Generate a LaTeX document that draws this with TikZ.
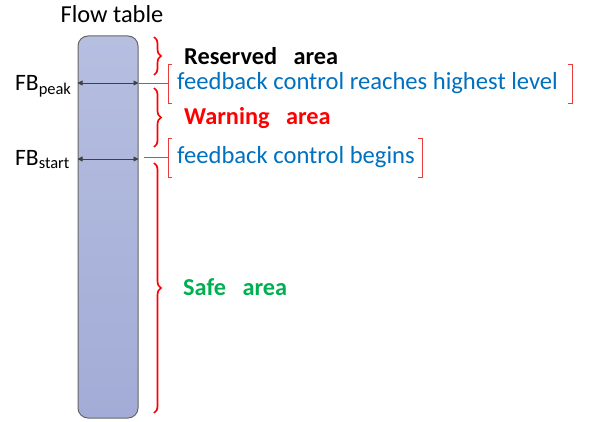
\documentclass[tikz,border=0pt]{standalone}
\usepackage{fontspec}
\setmainfont{Carlito}
\usetikzlibrary{arrows.meta,decorations.pathreplacing}
\definecolor{tabletop}{RGB}{182,191,224}
\definecolor{tablebot}{RGB}{162,172,214}
\definecolor{fbblue}{RGB}{0,112,192}
\definecolor{safegreen}{RGB}{0,176,80}
\definecolor{tick}{RGB}{235,60,60}
\tikzset{
  flowbar/.style={draw=black!60,line width=1pt,rounded corners=10pt,
    top color=tabletop,bottom color=tablebot,
    minimum width=60pt,minimum height=382pt,inner sep=0pt},
  level/.style={{Triangle[length=5pt,width=5pt]}-{Triangle[length=5pt,width=5pt]},
    black!75,line width=0.9pt},
  areabrace/.style={red,line width=1.7pt,decorate,
    decoration={brace,amplitude=7pt}},
  bracket/.style={tick,line width=0.8pt},
  txt/.style={inner sep=0pt,anchor=base west,font=\fontsize{24}{28}\selectfont},
  note/.style={txt,fbblue,font=\fontsize{24.6}{28}\selectfont},
  areatxt/.style={txt,font=\fontsize{24.3}{28}\selectfont\bfseries}
}
\begin{document}
\begin{tikzpicture}[x=1pt,y=-1pt]
  \useasboundingbox (0,0) rectangle (591,422);
  \node[flowbar] (table) at (108,227) {};
  \node[txt,anchor=base,font=\fontsize{24.4}{28}\selectfont] (title) at (112,23) {Flow table};

  % the two feedback levels
  \coordinate (peak) at (0,83);
  \coordinate (start) at (0,159);
  \draw[level] (table.west |- peak) -- (table.east |- peak);
  \draw[level] (table.west |- start) -- (table.east |- start);
  \node[txt,font=\fontsize{23.5}{28}\selectfont] (peaklbl) at (15,91) {FB\textsubscript{peak}};
  \node[txt,font=\fontsize{23.5}{28}\selectfont] (startlbl) at (15,165) {FB\textsubscript{start}};

  % areas
  \draw[areabrace] (154,37) -- (154,75);
  \draw[areabrace] (154,88) -- (154,147);
  \draw[areabrace] (154,163) -- (154,413);
  \node[areatxt] (reserved) at (184,65) {Reserved~~~area};
  \node[areatxt,red] (warning) at (184,125) {Warning~~~area};
  \node[areatxt,safegreen] (safe) at (183,295) {Safe~~~area};

  % notes on the levels
  \node[note] (peaknote) at (177,90) {feedback control reaches highest level};
  \node[note] (startnote) at (177,164) {feedback control begins};
  \coordinate (peakfrom) at (139,83);
  \coordinate (peakto) at (168,83);
  \coordinate (startfrom) at (144,157);
  \coordinate (startto) at (168,157);
  \draw[bracket] (peakfrom) -- (peakto);
  \draw[bracket] (startfrom) -- (startto);
  \draw[bracket] (172,64) -- (168,64) -- (168,103) -- (172,103);
  \draw[bracket] (568,64) -- (572,64) -- (572,103) -- (568,103);
  \draw[bracket] (172,138) -- (168,138) -- (168,177) -- (172,177);
  \draw[bracket] (418,138) -- (422,138) -- (422,177) -- (418,177);
\end{tikzpicture}
\end{document}
